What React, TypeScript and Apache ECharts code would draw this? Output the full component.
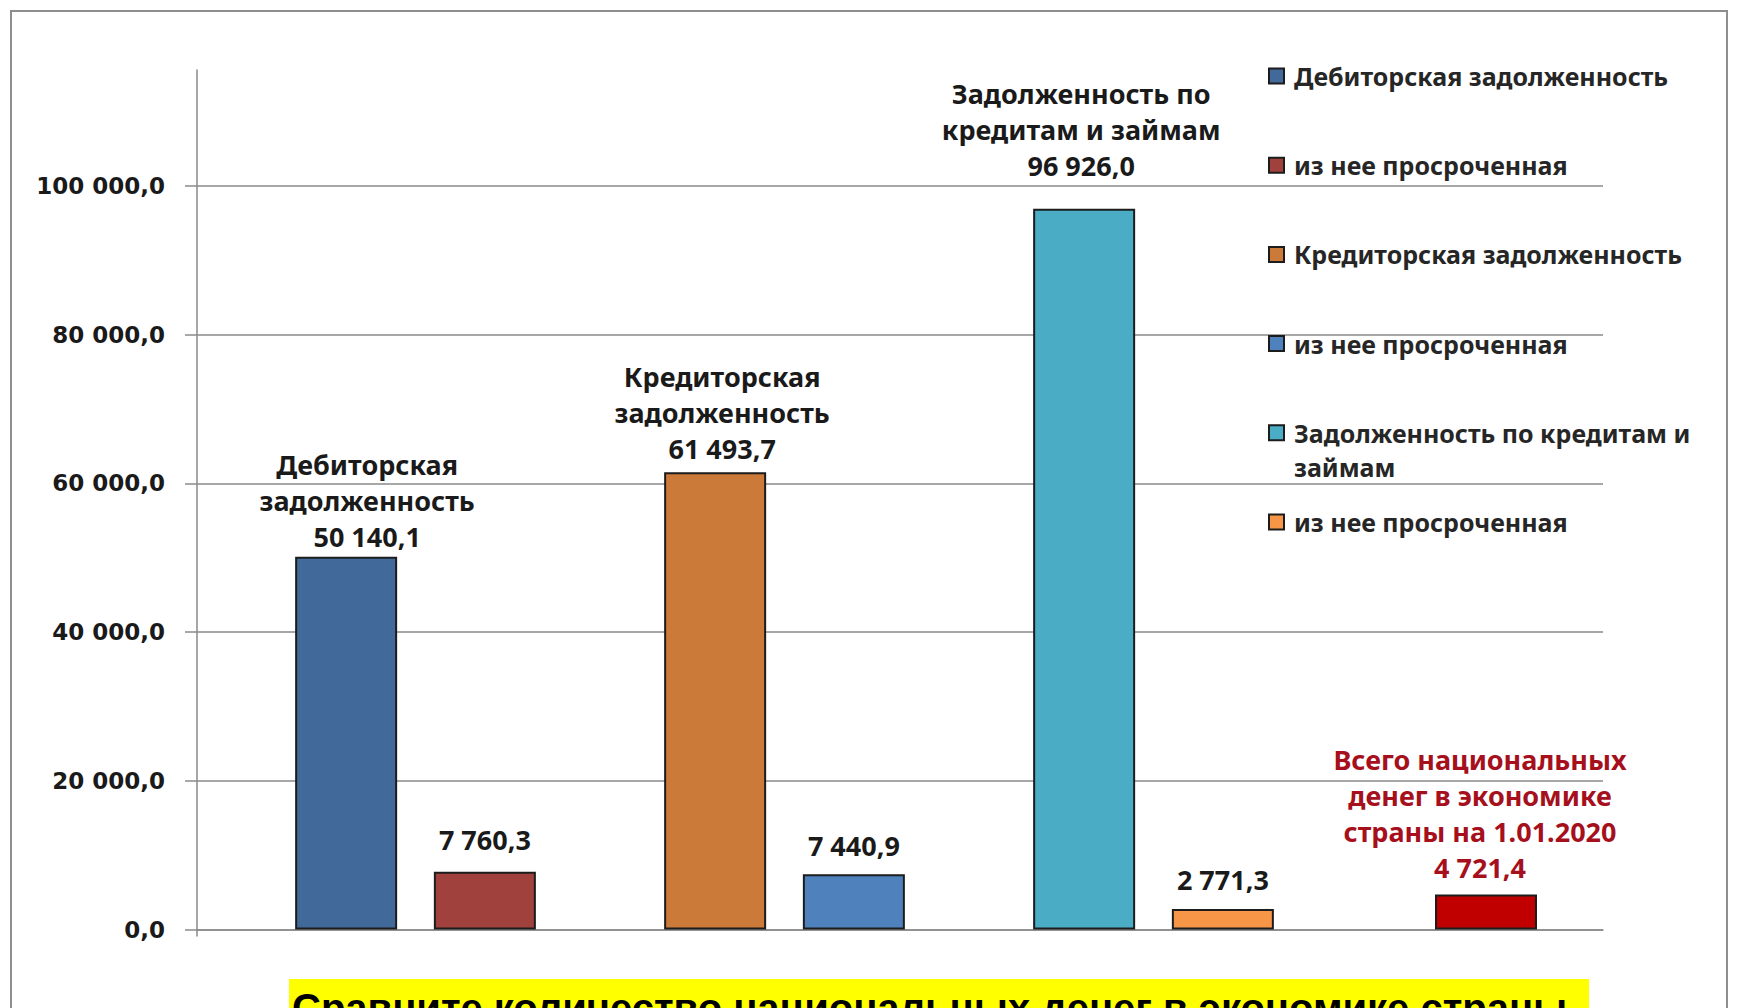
import React, { useEffect, useRef } from "react";
import * as echarts from "echarts";

// ---------- data ----------
const categories = [
  "Дебиторская задолженность",
  "Кредиторская задолженность",
  "Задолженность по кредитам и займам",
  "Всего национальных денег",
];
const totalNames = [
  "Дебиторская задолженность",
  "Кредиторская задолженность",
  "Задолженность по кредитам и займам",
];
const overdueNames = [
  "из нее просроченная (дебиторская)",
  "из нее просроченная (кредиторская)",
  "из нее просроченная (по кредитам и займам)",
];
const overdueLegendLabel = "из нее просроченная";
const totalValues = [50140.1, 61493.7, 96926.0];
const overdueValues = [7760.3, 7440.9, 2771.3];
const totalTitles = [
  "Дебиторская\nзадолженность",
  "Кредиторская\nзадолженность",
  "Задолженность по\nкредитам и займам",
];
const nationalName = "Всего национальных денег в экономике страны на 1.01.2020";
const nationalTitle = "Всего национальных\nденег в экономике\nстраны на 1.01.2020";
const nationalValue = 4721.4;
const yTicks = [0, 20000, 40000, 60000, 80000, 100000];
const footerText = "Сравните количество национальных денег в экономике страны";

// ---------- styles ----------
const totalColors = ["#416A9B", "#CB7A3A", "#4BACC6"];
const overdueColors = ["#A0413D", "#4F81BD", "#F79646"];
const nationalColor = "#C00000";
const totalLabelDist = [2, 6, 25];
const totalLabelDx = [21, 7, -3];
const overdueLabelDist = [14, 11, 11];
const FONT = '"Noto Sans", sans-serif';

const fmt = (v: number) => {
  const [i, d] = v.toFixed(1).split(".");
  return i.replace(/\B(?=(\d{3})+(?!\d))/g, " ") + "," + d;
};

const Y_MAX = 115600;
const GRID_TOP = 70;
const GRID_BOTTOM = 78.5;
const BAR_W = 102;

export default function App() {
  const ref = useRef<HTMLDivElement>(null);
  useEffect(() => {
    document.body.style.margin = "0";
    const chart = echarts.init(ref.current!, null, { renderer: "svg" });

    const labelBase = {
      show: true,
      position: "top",
      fontFamily: FONT,
      fontWeight: "bold",
      fontSize: 27,
      lineHeight: 36,
      color: "#1a1a1a",
      align: "center",
    };

    const series: any[] = [];
    for (let i = 0; i < 3; i++) {
      series.push({
        type: "bar",
        name: totalNames[i],
        stack: "total",
        xAxisIndex: 1,
        yAxisIndex: 1,
        barWidth: BAR_W,
        barGap: "36%",
        itemStyle: { color: totalColors[i], borderColor: "#1c1c1c", borderWidth: 2 },
        label: {
          ...labelBase,
          distance: totalLabelDist[i],
          offset: [totalLabelDx[i], 0],
          formatter: (p: any) => totalTitles[i] + "\n" + fmt(p.value),
        },
        data: categories.map((_, j) => (j === i ? totalValues[i] : "-")),
      });
      series.push({
        type: "bar",
        name: overdueNames[i],
        stack: "overdue",
        xAxisIndex: 1,
        yAxisIndex: 1,
        barWidth: BAR_W,
        barGap: "36%",
        itemStyle: { color: overdueColors[i], borderColor: "#1c1c1c", borderWidth: 2 },
        label: {
          ...labelBase,
          distance: overdueLabelDist[i],
          formatter: (p: any) => fmt(p.value),
        },
        data: categories.map((_, j) => (j === i ? overdueValues[i] : "-")),
      });
    }
    series.push({
      type: "bar",
      name: nationalName,
      xAxisIndex: 2,
      yAxisIndex: 2,
      barWidth: BAR_W,
      itemStyle: { color: nationalColor, borderColor: "#1c1c1c", borderWidth: 2 },
      label: {
        ...labelBase,
        color: "#A5101C",
        distance: 9,
        offset: [-6, 0],
        formatter: (p: any) => nationalTitle + "\n" + fmt(p.value),
      },
      data: categories.map((_, j) => (j === 3 ? nationalValue : "-")),
    });

    const legendOrder = [
      totalNames[0], overdueNames[0],
      totalNames[1], overdueNames[1],
      totalNames[2], overdueNames[2],
    ];
    const legendText = (name: string) => {
      if (overdueNames.includes(name)) return overdueLegendLabel;
      if (name === totalNames[2]) return "Задолженность по кредитам и";
      return name;
    };

    const hiddenY = (i: number) => ({
      type: "value",
      gridIndex: i,
      min: 0,
      max: Y_MAX,
      show: false,
      splitLine: { show: false },
    });
    const hiddenX = (i: number) => ({
      type: "category",
      gridIndex: i,
      data: categories,
      show: false,
    });

    chart.setOption({
      animation: false,
      backgroundColor: "#ffffff",
      grid: [
        { left: 197, right: 145, top: GRID_TOP, bottom: GRID_BOTTOM },
        { left: 231, right: 41, top: GRID_TOP, bottom: GRID_BOTTOM },
        { left: 194.5, right: 77.5, top: GRID_TOP, bottom: GRID_BOTTOM },
      ],
      xAxis: [
        {
          type: "value",
          gridIndex: 0,
          min: 0,
          max: 1,
          axisLabel: { show: false },
          splitLine: { show: false },
          axisLine: { show: true, lineStyle: { color: "#8a8a8a", width: 1.5 } },
          axisTick: { show: true, length: 7, customValues: [0], lineStyle: { color: "#8a8a8a", width: 1.5 } },
        },
        hiddenX(1),
        hiddenX(2),
      ],
      yAxis: [
        {
          type: "value",
          gridIndex: 0,
          min: 0,
          max: Y_MAX,
          interval: 20000,
          axisLine: { show: true, lineStyle: { color: "#8a8a8a", width: 1.5 } },
          axisTick: {
            show: true,
            length: 12,
            customValues: yTicks,
            lineStyle: { color: "#8a8a8a", width: 1.5 },
          },
          axisLabel: {
            customValues: yTicks,
            margin: 32,
            formatter: (v: number) => fmt(v),
            fontFamily: '"DejaVu Sans", sans-serif',
            fontWeight: "bold",
            fontSize: 23,
            color: "#1a1a1a",
          },
          splitLine: {
            show: true,
            lineStyle: { color: "#8a8a8a", width: 1.5 },
          },
        },
        hiddenY(1),
        hiddenY(2),
      ],
      legend: {
        orient: "vertical",
        left: 1268,
        top: 62,
        padding: 0,
        itemWidth: 15,
        itemHeight: 15,
        itemGap: 61.2,
        icon: "rect",
        selectedMode: false,
        data: legendOrder,
        formatter: legendText,
        textStyle: {
          fontFamily: FONT,
          fontWeight: "bold",
          fontSize: 25,
          lineHeight: 28,
          color: "#262626",
          padding: [0, 0, 0, 5],
        },
      },
      graphic: [
        {
          type: "text",
          left: 1294,
          top: 454,
          style: {
            text: "займам",
            font: `bold 25px ${FONT}`,
            fill: "#262626",
          },
        },
        {
          type: "rect",
          shape: { x: 11, y: 11, width: 1716, height: 1100 },
          style: { fill: "none", stroke: "#8e8e8e", lineWidth: 2 },
          silent: true,
        },
        {
          type: "rect",
          shape: { x: 289, y: 979, width: 1300, height: 40 },
          style: { fill: "#FFFF00" },
          silent: true,
        },
        {
          type: "text",
          x: 292,
          y: 988,
          style: {
            text: footerText,
            font: 'bold 40px "Liberation Sans", Arial, sans-serif',
            fill: "#000000",
            verticalAlign: "top",
            lineHeight: 40,
          },
        },
      ],
      series,
    });
    return () => chart.dispose();
  }, []);
  return <div ref={ref} style={{ width: 1748, height: 1008 }} />;
}
